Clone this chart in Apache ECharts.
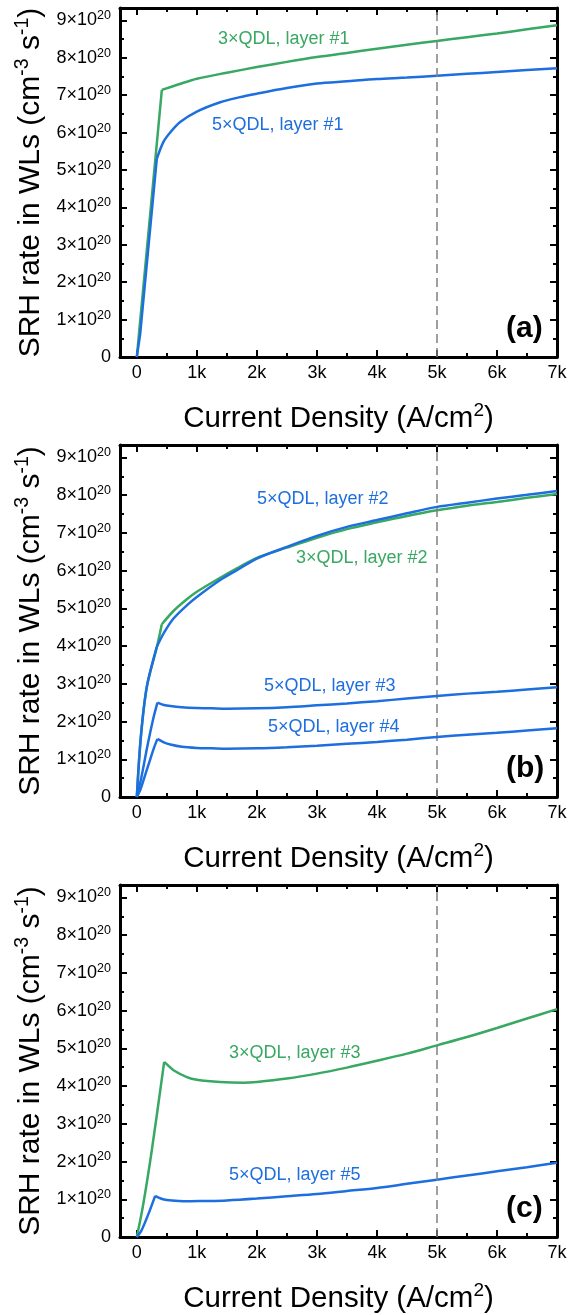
<!DOCTYPE html>
<html><head><meta charset="utf-8">
<script src="https://cdn.jsdelivr.net/npm/echarts@6/dist/echarts.min.js"></script>
<style>html,body{margin:0;padding:0;background:#fff}#c{width:579px;height:1315px}</style>
</head><body><div id="c"></div>
<script>
// x: current density (A/cm^2); y: SRH rate in WLs, in units of 1e20 cm^-3 s^-1
const xTicks = [0, 1000, 2000, 3000, 4000, 5000, 6000, 7000];
const xMinorTicks = [500, 1500, 2500, 3500, 4500, 5500, 6500];
const yTicks = [0, 1, 2, 3, 4, 5, 6, 7, 8, 9];
const yMinorTicks = [0.5, 1.5, 2.5, 3.5, 4.5, 5.5, 6.5, 7.5, 8.5];
const markerX = 5000;
const panelLabels = ['(a)', '(b)', '(c)'];

// Panel (a)
const a3L1x = [0, 417, 700, 1000, 1500, 2000, 2500, 3000, 3500, 4000, 4500, 5000, 5500, 6000, 6500, 7000];
const a3L1y = [0, 7.14, 7.29, 7.44, 7.60, 7.75, 7.89, 8.02, 8.13, 8.24, 8.35, 8.45, 8.55, 8.65, 8.76, 8.87];
const a5L1x = [0, 55, 333, 444, 556, 722, 1000, 1389, 1700, 2000, 2500, 3000, 3500, 4000, 4500, 5000, 5500, 6000, 6500, 7000];
const a5L1y = [0, 0.6, 5.30, 5.75, 6.00, 6.28, 6.56, 6.81, 6.94, 7.04, 7.19, 7.31, 7.37, 7.43, 7.47, 7.52, 7.57, 7.62, 7.67, 7.72];

// Panel (b)
const b3L2x = [0, 67, 167, 333, 417, 611, 833, 1000, 1389, 1667, 2000, 2500, 3000, 3500, 4000, 4500, 5000, 5500, 6000, 6500, 7000];
const b3L2y = [0, 1.59, 2.92, 3.97, 4.58, 4.93, 5.24, 5.44, 5.81, 6.06, 6.34, 6.61, 6.87, 7.10, 7.28, 7.45, 7.60, 7.72, 7.82, 7.93, 8.03];
const b5L2x = [0, 67, 167, 333, 444, 611, 833, 1000, 1389, 1667, 2000, 2500, 3000, 3500, 4000, 4500, 5000, 5500, 6000, 6500, 7000];
const b5L2y = [0, 1.59, 2.92, 3.98, 4.33, 4.73, 5.08, 5.30, 5.75, 6.01, 6.32, 6.63, 6.92, 7.16, 7.34, 7.52, 7.69, 7.80, 7.91, 8.01, 8.11];
const b5L3x = [0, 80, 170, 270, 344, 450, 560, 750, 1000, 1250, 1500, 2000, 2500, 3000, 3500, 4000, 4500, 5000, 5500, 6000, 6500, 7000];
const b5L3y = [0, 0.55, 1.30, 2.05, 2.50, 2.44, 2.41, 2.38, 2.36, 2.35, 2.34, 2.35, 2.38, 2.43, 2.48, 2.54, 2.61, 2.68, 2.74, 2.79, 2.85, 2.91];
const b5L4x = [0, 60, 120, 210, 290, 344, 450, 560, 750, 1000, 1250, 1500, 2000, 2500, 3000, 3500, 4000, 4500, 5000, 5500, 6000, 6500, 7000];
const b5L4y = [0, 0.20, 0.49, 0.93, 1.32, 1.54, 1.45, 1.39, 1.33, 1.30, 1.29, 1.28, 1.29, 1.32, 1.36, 1.41, 1.46, 1.52, 1.59, 1.65, 1.70, 1.76, 1.82];

// Panel (c)
const c3L3x = [0, 100, 250, 456, 520, 611, 833, 1000, 1389, 1778, 2000, 2500, 3000, 3500, 4000, 4500, 5000, 5500, 6000, 6500, 7000];
const c3L3y = [0, 0.80, 2.30, 4.64, 4.55, 4.42, 4.24, 4.17, 4.11, 4.09, 4.11, 4.20, 4.33, 4.49, 4.67, 4.86, 5.08, 5.30, 5.54, 5.79, 6.04];
const c5L5x = [0, 70, 140, 220, 306, 400, 500, 700, 900, 1200, 1500, 2000, 2500, 3000, 3500, 4000, 4500, 5000, 5500, 6000, 6500, 7000];
const c5L5y = [0, 0.15, 0.40, 0.72, 1.09, 1.02, 0.98, 0.955, 0.95, 0.955, 0.97, 1.02, 1.08, 1.14, 1.22, 1.30, 1.41, 1.52, 1.63, 1.74, 1.85, 1.97];

const GREEN = '#38A862';
const BLUE = '#1D6EDE';
const FONT = '"Liberation Sans", Arial, Helvetica, sans-serif';

// [x, y, colour, index of the kink point, smooth the rising part]
const panels = [
  { series: [[a3L1x, a3L1y, GREEN, 1, false], [a5L1x, a5L1y, BLUE, 2, false]],
    notes: [['3×QDL, layer #1', 218, 39, GREEN], ['5×QDL, layer #1', 212, 125, BLUE]] },
  { series: [[b3L2x, b3L2y, GREEN, 4, true], [b5L2x, b5L2y, BLUE, 3, true], [b5L3x, b5L3y, BLUE, 4, true], [b5L4x, b5L4y, BLUE, 5, true]],
    notes: [['5×QDL, layer #2', 257, 59, BLUE], ['3×QDL, layer #2', 296, 118, GREEN], ['5×QDL, layer #3', 264, 246, BLUE], ['5×QDL, layer #4', 268, 287.5, BLUE]] },
  { series: [[c3L3x, c3L3y, GREEN, 3, true], [c5L5x, c5L5y, BLUE, 4, true]],
    notes: [['3×QDL, layer #3', 229, 173, GREEN], ['5×QDL, layer #5', 229, 295, BLUE]] }
];

const PANEL_STEP = 440, GRID_TOP = 5, GRID_H = 352, GRID_LEFT = 120, GRID_RIGHT = 22;
const XMIN = -280, XMAX = 7000, YMIN = 0, YMAX = 9.33;

const grids = [], xAxes = [], yAxes = [], series = [], graphics = [];
const black = { color: '#000', width: 2 };
const noLine = { show: false, onZero: false };
const boxLine = { show: true, onZero: false, lineStyle: { color: '#000', width: 3 } };
const blankLabel = vals => ({ show: true, customValues: vals, formatter: () => '', fontSize: 1 });

panels.forEach((p, i) => {
  const base = PANEL_STEP * i;
  const top = GRID_TOP + base;
  grids.push({ left: GRID_LEFT, right: GRID_RIGHT, top: top, height: GRID_H });
  const xBase = { type: 'value', gridIndex: i, min: XMIN, max: XMAX, splitLine: { show: false } };
  const yBase = { type: 'value', gridIndex: i, min: YMIN, max: YMAX, splitLine: { show: false } };
  const xi = xAxes.length, yi = yAxes.length;
  xAxes.push(Object.assign({}, xBase, {
    position: 'bottom', axisLine: boxLine,
    axisTick: { show: true, inside: true, length: 7, customValues: xTicks, lineStyle: black },
    axisLabel: { show: true, customValues: xTicks, margin: 7, fontSize: 18, color: '#000', fontFamily: FONT,
      formatter: v => v === 0 ? '0' : (v / 1000) + 'k' },
    name: '{b|Current Density (A/cm}{s|2}{b|)}', nameLocation: 'middle', nameGap: 44,
    nameTextStyle: { fontFamily: FONT, color: '#000', rich: {
      b: { fontSize: 29.5, lineHeight: 35, fontFamily: FONT, color: '#000' },
      s: { fontSize: 19, lineHeight: 19, verticalAlign: 'top', fontFamily: FONT, color: '#000' } } }
  }));
  xAxes.push(Object.assign({}, xBase, { position: 'bottom', axisLine: noLine,
    axisTick: { show: true, inside: true, length: 4, customValues: xMinorTicks, lineStyle: black }, axisLabel: blankLabel(xMinorTicks) }));
  xAxes.push(Object.assign({}, xBase, { position: 'top', axisLine: boxLine,
    axisTick: { show: true, inside: true, length: 7, customValues: xTicks, lineStyle: black }, axisLabel: blankLabel(xTicks) }));
  xAxes.push(Object.assign({}, xBase, { position: 'top', axisLine: noLine,
    axisTick: { show: true, inside: true, length: 4, customValues: xMinorTicks, lineStyle: black }, axisLabel: blankLabel(xMinorTicks) }));

  yAxes.push(Object.assign({}, yBase, {
    position: 'left', axisLine: boxLine,
    axisTick: { show: true, inside: true, length: 7, customValues: yTicks, lineStyle: black },
    axisLabel: { show: true, customValues: yTicks, margin: 9, fontSize: 18, color: '#000', fontFamily: FONT,
      formatter: v => v === 0 ? '{b|0}' : '{b|' + v + '×10}{s|20}',
      rich: { b: { fontSize: 18, lineHeight: 22, fontFamily: FONT, color: '#000' },
              s: { fontSize: 12.5, lineHeight: 12, verticalAlign: 'top', fontFamily: FONT, color: '#000' } } },
    name: '{b|SRH rate in WLs (cm}{s|-3}{b| s}{s|-1}{b|)}', nameLocation: 'middle', nameGap: 72, nameRotate: 90,
    nameTextStyle: { fontFamily: FONT, color: '#000', rich: {
      b: { fontSize: 30, lineHeight: 35, fontFamily: FONT, color: '#000' },
      s: { fontSize: 19.5, lineHeight: 19, verticalAlign: 'top', fontFamily: FONT, color: '#000' } } }
  }));
  yAxes.push(Object.assign({}, yBase, { position: 'left', axisLine: noLine,
    axisTick: { show: true, inside: true, length: 4, customValues: yMinorTicks, lineStyle: black }, axisLabel: blankLabel(yMinorTicks) }));
  yAxes.push(Object.assign({}, yBase, { position: 'right', axisLine: boxLine,
    axisTick: { show: true, inside: true, length: 7, customValues: yTicks, lineStyle: black }, axisLabel: blankLabel(yTicks) }));
  yAxes.push(Object.assign({}, yBase, { position: 'right', axisLine: noLine,
    axisTick: { show: true, inside: true, length: 4, customValues: yMinorTicks, lineStyle: black }, axisLabel: blankLabel(yMinorTicks) }));

  // every axis of the panel carries a piece of a curve (all axes share the same scale)
  let slot = 0;
  p.series.forEach((s, k) => {
    const [xs, ys, col, kink, riseSmooth] = s;
    const pts = xs.map((x, j) => [x, ys[j]]);
    const common = { type: 'line', showSymbol: false, symbol: 'none',
      lineStyle: { color: col, width: 2.5 }, itemStyle: { color: col }, z: 3 + k };
    const a1 = slot % 4; slot++;
    const a2 = slot % 4; slot++;
    series.push(Object.assign({}, common, { xAxisIndex: xi + a1, yAxisIndex: yi + a1,
      data: pts.slice(0, kink + 1), smooth: riseSmooth ? 0.3 : false,
      markLine: k === 0 ? { silent: true, symbol: 'none', label: { show: false },
        lineStyle: { type: [9, 5], color: '#808080', width: 1.5 }, data: [{ xAxis: markerX }] } : undefined }));
    series.push(Object.assign({}, common, { xAxisIndex: xi + a2, yAxisIndex: yi + a2,
      data: pts.slice(kink), smooth: 0.3 }));
  });

  p.notes.forEach(n => {
    graphics.push({ type: 'text', x: n[1], y: base + n[2],
      style: { text: n[0], fill: n[3], fontSize: 18, fontFamily: FONT, textAlign: 'left', textVerticalAlign: 'middle' } });
  });
  graphics.push({ type: 'text', x: 506, y: base + 329,
    style: { text: panelLabels[i], fill: '#000', fontSize: 30, fontWeight: 'bold', fontFamily: FONT, textAlign: 'left', textVerticalAlign: 'middle' } });
});

const chart = echarts.init(document.getElementById('c'), null, { renderer: 'canvas' });
chart.setOption({
  animation: false,
  backgroundColor: '#fff',
  grid: grids, xAxis: xAxes, yAxis: yAxes, series: series, graphic: graphics
});
</script></body></html>
